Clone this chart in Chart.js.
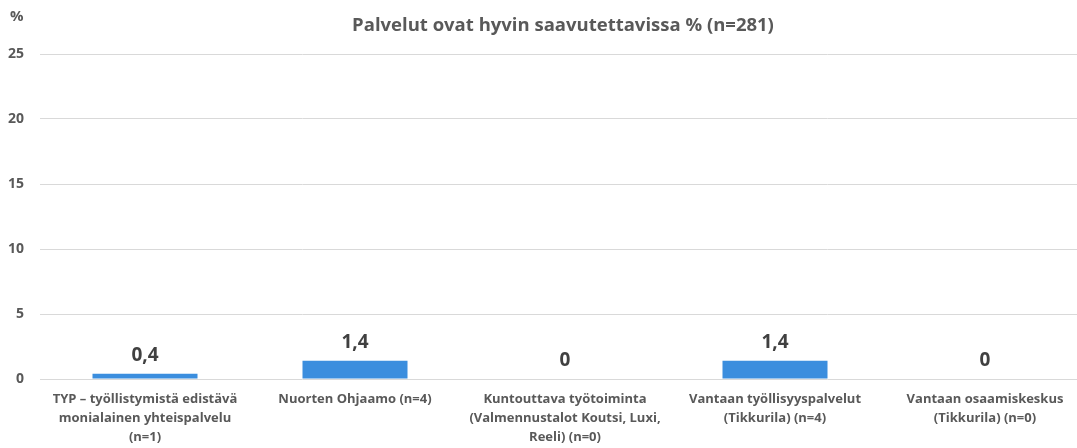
<!DOCTYPE html>
<html>
<head>
<meta charset="utf-8">
<script src="https://cdn.jsdelivr.net/npm/chart.js@4.4.1/dist/chart.umd.min.js"></script>
<style>
html,body{margin:0;padding:0;background:#fff;overflow:hidden;}
#wrap{width:1100px;height:448px;position:relative;}
</style>
</head>
<body>
<div id="wrap"><canvas id="c" width="1100" height="448"></canvas></div>
<script>
const categories = [
  ["TYP – työllistymistä edistävä", "monialainen yhteispalvelu", "(n=1)"],
  ["Nuorten Ohjaamo (n=4)"],
  ["Kuntouttava työtoiminta", "(Valmennustalot Koutsi, Luxi,", "Reeli) (n=0)"],
  ["Vantaan työllisyyspalvelut", "(Tikkurila) (n=4)"],
  ["Vantaan osaamiskeskus", "(Tikkurila) (n=0)"]
];
const values = [0.4, 1.4, 0, 1.4, 0];
const yTicks = [0, 5, 10, 15, 20, 25];
const titleText = "Palvelut ovat hyvin saavutettavissa % (n=281)";
const yUnit = "%";

const FONT = "'Open Sans', Lato, sans-serif";

const extras = {
  id: 'extras',
  afterDatasetsDraw(chart) {
    const ctx = chart.ctx;
    const meta = chart.getDatasetMeta(0);
    ctx.save();
    ctx.fillStyle = '#404040';
    ctx.font = 'bold 19px ' + FONT;
    ctx.textAlign = 'center';
    ctx.textBaseline = 'middle';
    meta.data.forEach((bar, i) => {
      const txt = String(values[i]).replace('.', ',');
      ctx.fillText(txt, bar.x, bar.y - 18);
    });
    ctx.restore();
  },
  afterDraw(chart) {
    const ctx = chart.ctx;
    const a = chart.chartArea;
    ctx.save();
    ctx.fillStyle = '#595959';
    ctx.font = 'bold 18.5px ' + FONT;
    ctx.textAlign = 'center';
    ctx.textBaseline = 'middle';
    ctx.fillText(titleText, (a.left + a.right) / 2 - 2, 26);
    ctx.font = 'bold 15px ' + FONT;
    ctx.textAlign = 'left';
    ctx.fillText(yUnit, 10, 17);
    ctx.restore();
  }
};

new Chart(document.getElementById('c'), {
  type: 'bar',
  data: {
    labels: categories,
    datasets: [{
      data: values,
      backgroundColor: '#3B8EDE',
      borderWidth: 0,
      barPercentage: 0.5,
      categoryPercentage: 1.0
    }]
  },
  options: {
    responsive: false,
    animation: false,
    layout: { padding: { top: 54, right: 10, left: 0, bottom: 0 } },
    plugins: { legend: { display: false }, tooltip: { enabled: false }, title: { display: false } },
    scales: {
      y: {
        min: 0, max: 25,
        afterBuildTicks(scale) { scale.ticks = yTicks.map(v => ({ value: v })); },
        afterFit(scale) { scale.width = 40; },
        border: { display: false },
        grid: { color: '#d9d9d9', lineWidth: 1, drawTicks: false },
        ticks: { color: '#595959', font: { family: FONT, weight: 'bold', size: 14 }, padding: 16 }
      },
      x: {
        afterFit(scale) { scale.height = 69; },
        border: { display: false },
        grid: { display: false, drawTicks: false },
        ticks: {
          color: '#595959', maxRotation: 0, autoSkip: false,
          font: { family: FONT, weight: 'bold', size: 13, lineHeight: 1.45 },
          padding: 11
        }
      }
    }
  },
  plugins: [extras]
});
</script>
</body>
</html>
